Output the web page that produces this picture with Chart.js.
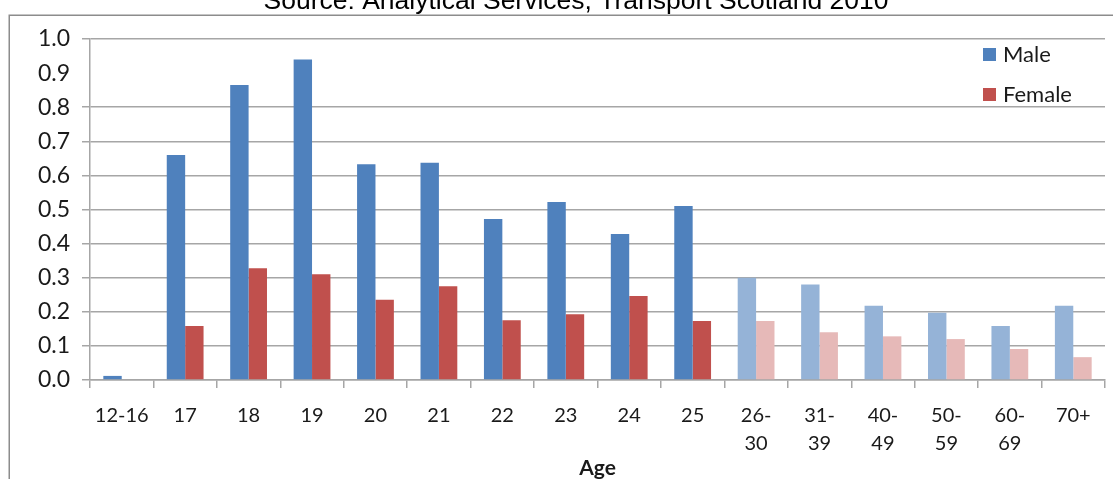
<!DOCTYPE html>
<html>
<head>
<meta charset="utf-8">
<script src="https://cdn.jsdelivr.net/npm/chart.js@4.4.1/dist/chart.umd.min.js"></script>
<style>
  body { margin: 0; background: #fff; }
  canvas { display: block; }
</style>
</head>
<body>
<canvas id="chart-age" width="1113" height="479"></canvas>
<script>
// Données
const ageGroups = ['12-16', '17', '18', '19', '20', '21', '22', '23', '24', '25',
    ['26-', '30'], ['31-', '39'], ['40-', '49'], ['50-', '59'], ['60-', '69'], '70+'];
const male = [0.012, 0.66, 0.865, 0.94, 0.633, 0.637, 0.472, 0.522, 0.428, 0.51,
    0.30, 0.28, 0.218, 0.197, 0.158, 0.218];
const female = [0, 0.158, 0.328, 0.31, 0.235, 0.275, 0.175, 0.193, 0.246, 0.173,
    0.173, 0.14, 0.128, 0.12, 0.091, 0.067];
const seriesLabels = ['Male', 'Female'];
const yTicks = { min: 0, max: 1, step: 0.1 };
const sourceText = 'Source: Analytical Services, Transport Scotland 2010';

document.addEventListener('DOMContentLoaded', function() {

    if (typeof Chart === 'undefined') {
        console.error('Chart.js n\'est pas chargé');
        return;
    }

    const colors = {
        male: '#4f81bd', maleLight: '#95b3d7',
        female: '#c0504d', femaleLight: '#e6b9b8',
        grid: '#a6a6a6', text: '#1a1a1a'
    };
    // les tranches d'âge au-delà de 25 sont en couleur atténuée
    const shade = (dark, light) => ageGroups.map((g, i) => i < 10 ? dark : light);

    // pas de ligne de grille à 0.9 sur l'original
    const gridColors = [];
    for (let i = 0; i <= 10; i++) {
        gridColors.push(i === 9 ? 'rgba(255,255,255,0)' : colors.grid);
    }

    // cadre, source et légende dessinés à la main
    const decor = {
        id: 'decor',
        beforeDraw(chart) {
            const ctx = chart.ctx;
            ctx.save();
            ctx.strokeStyle = '#8c8c8c';
            ctx.lineWidth = 1.5;
            ctx.beginPath();
            ctx.moveTo(9.25, chart.height + 5);
            ctx.lineTo(9.25, 15.25);
            ctx.lineTo(chart.width + 5, 15.25);
            ctx.stroke();
            ctx.fillStyle = '#000';
            ctx.font = '26.5px "Liberation Sans", Arial, sans-serif';
            ctx.textAlign = 'center';
            ctx.textBaseline = 'alphabetic';
            ctx.fillText(sourceText, 576, 9);
            ctx.restore();
        },
        afterDraw(chart) {
            const ctx = chart.ctx;
            ctx.save();
            ctx.font = '22px Lato, "Noto Sans", sans-serif';
            ctx.textBaseline = 'middle';
            ctx.textAlign = 'left';
            chart.data.datasets.forEach((ds, i) => {
                const y = 55 + i * 40;
                ctx.fillStyle = ds.legendColor;
                ctx.fillRect(983, y - 7, 13, 13);
                ctx.fillStyle = colors.text;
                ctx.fillText(ds.label, 1003, y);
            });
            ctx.restore();
        }
    };

    new Chart(document.getElementById('chart-age'), {
        type: 'bar',
        data: {
            labels: ageGroups,
            datasets: [{
                label: seriesLabels[0],
                data: male,
                backgroundColor: shade(colors.male, colors.maleLight),
                legendColor: colors.male
            }, {
                label: seriesLabels[1],
                data: female,
                backgroundColor: shade(colors.female, colors.femaleLight),
                legendColor: colors.female
            }]
        },
        options: {
            responsive: false,
            animation: false,
            categoryPercentage: 0.58,
            barPercentage: 1,
            layout: { padding: { top: 39, right: 8, left: 0, bottom: 0 } },
            plugins: {
                legend: { display: false },
                title: { display: false },
                tooltip: { enabled: false }
            },
            scales: {
                x: {
                    afterFit: s => { s.height = 99; },
                    grid: {
                        offset: true,
                        drawOnChartArea: false,
                        color: colors.grid,
                        lineWidth: 1.5,
                        tickLength: 8
                    },
                    border: { color: colors.grid, width: 1.5 },
                    ticks: {
                        color: colors.text,
                        padding: 14,
                        maxRotation: 0,
                        autoSkip: false,
                        font: { family: 'Lato, "Noto Sans", sans-serif', size: 20, lineHeight: 1.4 }
                    },
                    title: {
                        display: true,
                        text: 'Age',
                        color: colors.text,
                        padding: { top: 0, bottom: -2 },
                        font: { family: 'Lato, "Noto Sans", sans-serif', size: 21, weight: 'bold' }
                    }
                },
                y: {
                    min: yTicks.min,
                    max: yTicks.max,
                    afterFit: s => { s.width = 90; },
                    grid: {
                        color: gridColors,
                        lineWidth: 1.5,
                        tickLength: 8
                    },
                    border: { color: colors.grid, width: 1.5 },
                    ticks: {
                        stepSize: yTicks.step,
                        color: colors.text,
                        padding: 12,
                        callback: v => v.toFixed(1),
                        font: { family: 'Lato, "Noto Sans", sans-serif', size: 23 }
                    }
                }
            }
        },
        plugins: [decor]
    });
});
</script>
</body>
</html>
